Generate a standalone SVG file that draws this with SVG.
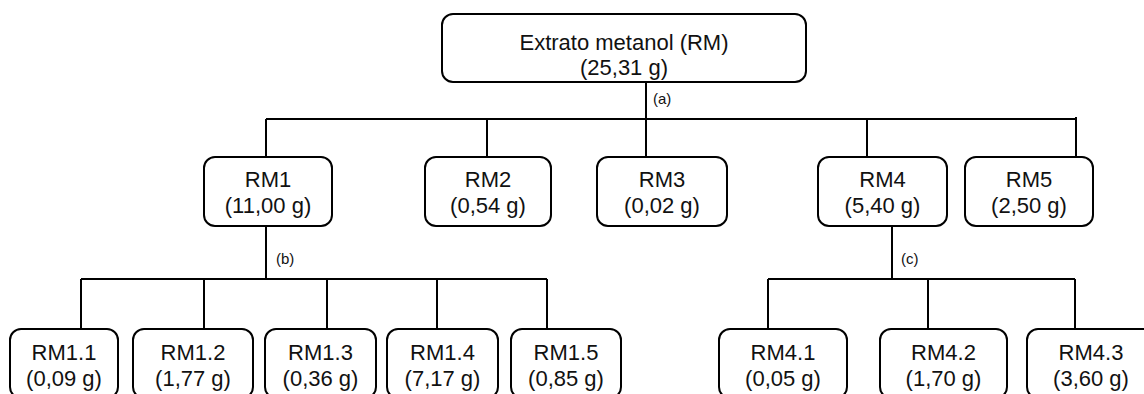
<svg xmlns="http://www.w3.org/2000/svg" width="1144" height="394" viewBox="0 0 1144 394">
<style>
.box{fill:#fff;stroke:#000;stroke-width:2}
.t{font-family:"Liberation Sans",Arial,sans-serif;font-size:22px;fill:#111;text-anchor:middle}
.lbl{font-family:"Liberation Sans",Arial,sans-serif;font-size:15px;fill:#111}
.c{fill:none;stroke:#000;stroke-width:2}
</style>
<rect width="1144" height="394" fill="#fff"/>
<g id="connectors">
<path class="c" d="M646 82V119M266 119H1076M266 119V157M487 119V157M646 119V157M867 119V157M1076 117V157"/>
<path class="c" d="M266 226V279M81 279H547M81 279V329M204 279V329M327 279V329M437 279V329M547 279V329"/>
<path class="c" d="M892 226V279M768 279H1075M768 279V329M928 279V329M1075 279V329"/>
<text class="lbl" x="653" y="104">(a)</text>
<text class="lbl" x="276" y="264">(b)</text>
<text class="lbl" x="901" y="264">(c)</text>
</g>
<g id="RM"><rect class="box" x="442" y="14" width="364" height="68" rx="11"/><text class="t" x="624" y="50">Extrato metanol (RM)</text><text class="t" x="624" y="75">(25,31 g)</text></g>
<g id="RM1"><rect class="box" x="204" y="157" width="128" height="69" rx="11"/><text class="t" x="268" y="187">RM1</text><text class="t" x="268" y="213">(11,00 g)</text></g>
<g id="RM2"><rect class="box" x="425" y="157" width="126" height="69" rx="11"/><text class="t" x="488" y="187">RM2</text><text class="t" x="488" y="213">(0,54 g)</text></g>
<g id="RM3"><rect class="box" x="597" y="157" width="130" height="69" rx="11"/><text class="t" x="662" y="187">RM3</text><text class="t" x="662" y="213">(0,02 g)</text></g>
<g id="RM4"><rect class="box" x="818" y="157" width="129" height="69" rx="11"/><text class="t" x="882.5" y="187">RM4</text><text class="t" x="882.5" y="213">(5,40 g)</text></g>
<g id="RM5"><rect class="box" x="965" y="157" width="128" height="69" rx="11"/><text class="t" x="1029" y="187">RM5</text><text class="t" x="1029" y="213">(2,50 g)</text></g>
<g id="RM1.1"><rect class="box" x="10" y="329" width="108" height="69" rx="11"/><text class="t" x="64" y="360">RM1.1</text><text class="t" x="64" y="386">(0,09 g)</text></g>
<g id="RM1.2"><rect class="box" x="133" y="329" width="120" height="69" rx="11"/><text class="t" x="193" y="360">RM1.2</text><text class="t" x="193" y="386">(1,77 g)</text></g>
<g id="RM1.3"><rect class="box" x="265" y="329" width="111" height="69" rx="11"/><text class="t" x="320.5" y="360">RM1.3</text><text class="t" x="320.5" y="386">(0,36 g)</text></g>
<g id="RM1.4"><rect class="box" x="387" y="329" width="111" height="69" rx="11"/><text class="t" x="442.5" y="360">RM1.4</text><text class="t" x="442.5" y="386">(7,17 g)</text></g>
<g id="RM1.5"><rect class="box" x="511" y="329" width="110" height="69" rx="11"/><text class="t" x="566" y="360">RM1.5</text><text class="t" x="566" y="386">(0,85 g)</text></g>
<g id="RM4.1"><rect class="box" x="719" y="329" width="128" height="69" rx="11"/><text class="t" x="783" y="360">RM4.1</text><text class="t" x="783" y="386">(0,05 g)</text></g>
<g id="RM4.2"><rect class="box" x="880" y="329" width="127" height="69" rx="11"/><text class="t" x="943.5" y="360">RM4.2</text><text class="t" x="943.5" y="386">(1,70 g)</text></g>
<g id="RM4.3"><rect class="box" x="1027" y="329" width="128" height="69" rx="11"/><text class="t" x="1091" y="360">RM4.3</text><text class="t" x="1091" y="386">(3,60 g)</text></g>
</svg>
